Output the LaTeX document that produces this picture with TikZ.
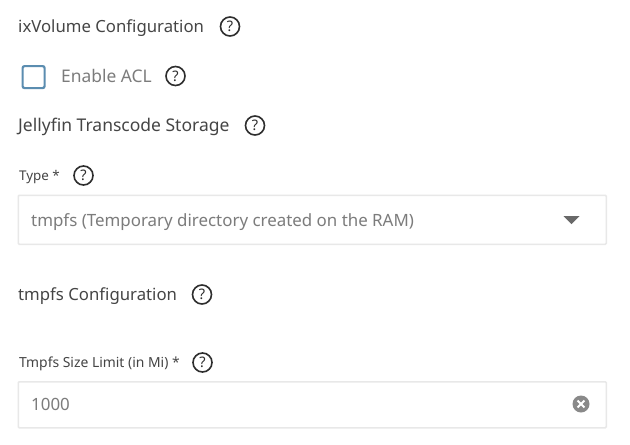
\documentclass[tikz,border=0pt]{standalone}
\usepackage{fontspec}
\setmainfont{Noto Sans}
\definecolor{headc}{HTML}{454545}
\definecolor{greyc}{HTML}{7C7C7C}
\definecolor{iconc}{HTML}{2E2E2E}
\definecolor{boxc}{HTML}{E8E8E8}
\definecolor{checkc}{HTML}{5B8DB0}
\tikzset{
  heading/.style={anchor=base west,inner sep=0pt,text=headc,font=\fontsize{16.75}{18}\selectfont},
  label/.style={anchor=base west,inner sep=0pt,text=headc,font=\fontsize{13.9}{15}\selectfont},
  value/.style={anchor=base west,inner sep=0pt,text=greyc,font=\fontsize{16.9}{18}\selectfont},
  helpicon/.style={circle,draw=iconc,line width=1.6pt,minimum size=19pt,inner sep=0pt,text=iconc,font=\fontsize{14.5}{15}\selectfont\bfseries},
  fieldbox/.style={draw=boxc,line width=1.5pt,rounded corners=1pt,fill=white,inner sep=0pt,anchor=north west},
}
\begin{document}
\begin{tikzpicture}[x=1pt,y=-1pt]
\useasboundingbox[fill=white] (0,0) rectangle (630,445);
\node[heading] (h1) at (18,32.5) {ixVolume Configuration};
\node[helpicon] (q1) at (230,26.5) {?};
\node[fieldbox,draw=checkc,line width=2.2pt,rounded corners=2pt,minimum width=22pt,minimum height=22pt] (cb) at (21.5,65) {};
\node[value,font=\fontsize{17.4}{20}\selectfont] (acl) at (61,82.5) {Enable ACL};
\node[helpicon] (q2) at (175.5,76) {?};
\node[heading,font=\fontsize{17.5}{20}\selectfont] (h2) at (18,131.5) {Jellyfin Transcode Storage};
\node[helpicon] (q3) at (255,125.5) {?};
\node[label,font=\fontsize{13.4}{15}\selectfont] (t1) at (19,180) {Type *};
\node[helpicon] (q4) at (83.5,175.5) {?};
\node[fieldbox,minimum width=588pt,minimum height=49pt] (f1) at (17.5,194.5) {};
\node[value] (v1) at (31,226) {tmpfs (Temporary directory created on the RAM)};
\fill[fill=greyc!85!black] (563.5,216) -- (579.5,216) -- (571.5,224) -- cycle;
\node[heading] (h3) at (18,300.5) {tmpfs Configuration};
\node[helpicon] (q5) at (202,294.5) {?};
\node[label] (t2) at (19,367) {Tmpfs Size Limit (in Mi) *};
\node[helpicon] (q6) at (202.5,362.5) {?};
\node[fieldbox,minimum width=588pt,minimum height=46pt] (f2) at (17.5,381) {};
\node[value] (v2) at (31,410) {1000};
\node[circle,fill=greyc!90,minimum size=17pt,inner sep=0pt] (clr) at (581,404) {};
\draw[white,line width=1.8pt] (clr.center)+(-3.4,-3.4) -- +(3.4,3.4) (clr.center)+(-3.4,3.4) -- +(3.4,-3.4);
\end{tikzpicture}
\end{document}
